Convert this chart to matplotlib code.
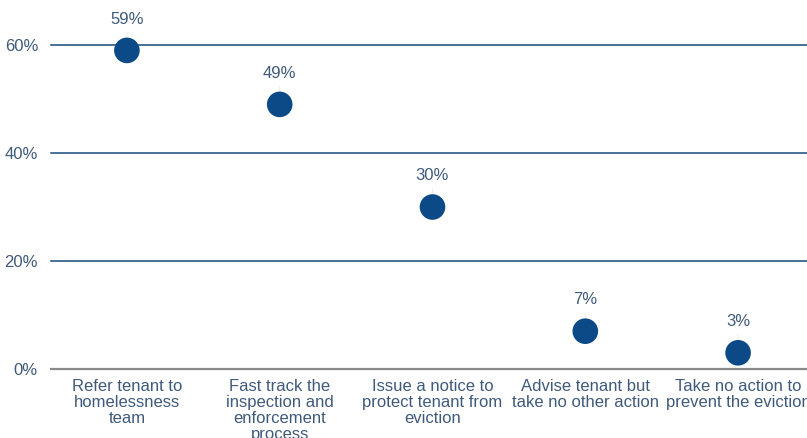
import matplotlib
matplotlib.use("Agg")
import matplotlib.pyplot as plt
from matplotlib.ticker import FuncFormatter

categories = ["Refer tenant to\nhomelessness\nteam",
              "Fast track the\ninspection and\nenforcement\nprocess",
              "Issue a notice to\nprotect tenant from\neviction",
              "Advise tenant but\ntake no other action",
              "Take no action to\nprevent the eviction"]
values = [59, 49, 30, 7, 3]
yticks = [0, 20, 40, 60]

plt.rcParams['font.family'] = ['Liberation Sans', 'DejaVu Sans']
text_col = "#3f5a7a"
dot_col = "#0c4a87"
grid_col = "#164a7c"

fig = plt.figure(figsize=(8.07, 4.38), dpi=100)
ax = fig.add_axes([50.5/807, 69/438, 764/807, 324/438])
x = list(range(len(categories)))
ax.set_xlim(-0.5, len(categories) - 0.5)
ax.set_ylim(0, 60)

for yt in yticks[1:]:
    ax.axhline(yt, color=grid_col, lw=1.1, zorder=1, clip_on=False)
ax.axhline(0, color="#8a8a8a", lw=1.6, zorder=1, clip_on=False)

ax.scatter(x, values, s=340, color=dot_col, zorder=4, clip_on=False, edgecolors='none')
for xi, v in zip(x, values):
    ax.annotate(f"{v}%", (xi, v), xytext=(0, 22.5), textcoords="offset points",
                ha="center", va="center", fontsize=12, color=text_col,
                annotation_clip=False, zorder=5)
    ann = ax.annotate("", (xi, v), xytext=(0, 15), textcoords="offset points",
                      arrowprops=dict(arrowstyle="-", color="#ececec", lw=0.8),
                      annotation_clip=False, zorder=2)
    ann.arrow_patch.set_zorder(2)

ax.set_yticks(yticks)
ax.yaxis.set_major_formatter(FuncFormatter(lambda v, p: f"{int(v)}%"))
ax.set_xticks(x)
ax.set_xticklabels(categories, fontsize=12, color=text_col, linespacing=1.08)
ax.tick_params(axis='x', length=0, pad=7)
ax.tick_params(axis='y', length=0, pad=9, labelsize=12, labelcolor=text_col)
for s in ax.spines.values():
    s.set_visible(False)

fig.savefig("out.png", dpi=100)
